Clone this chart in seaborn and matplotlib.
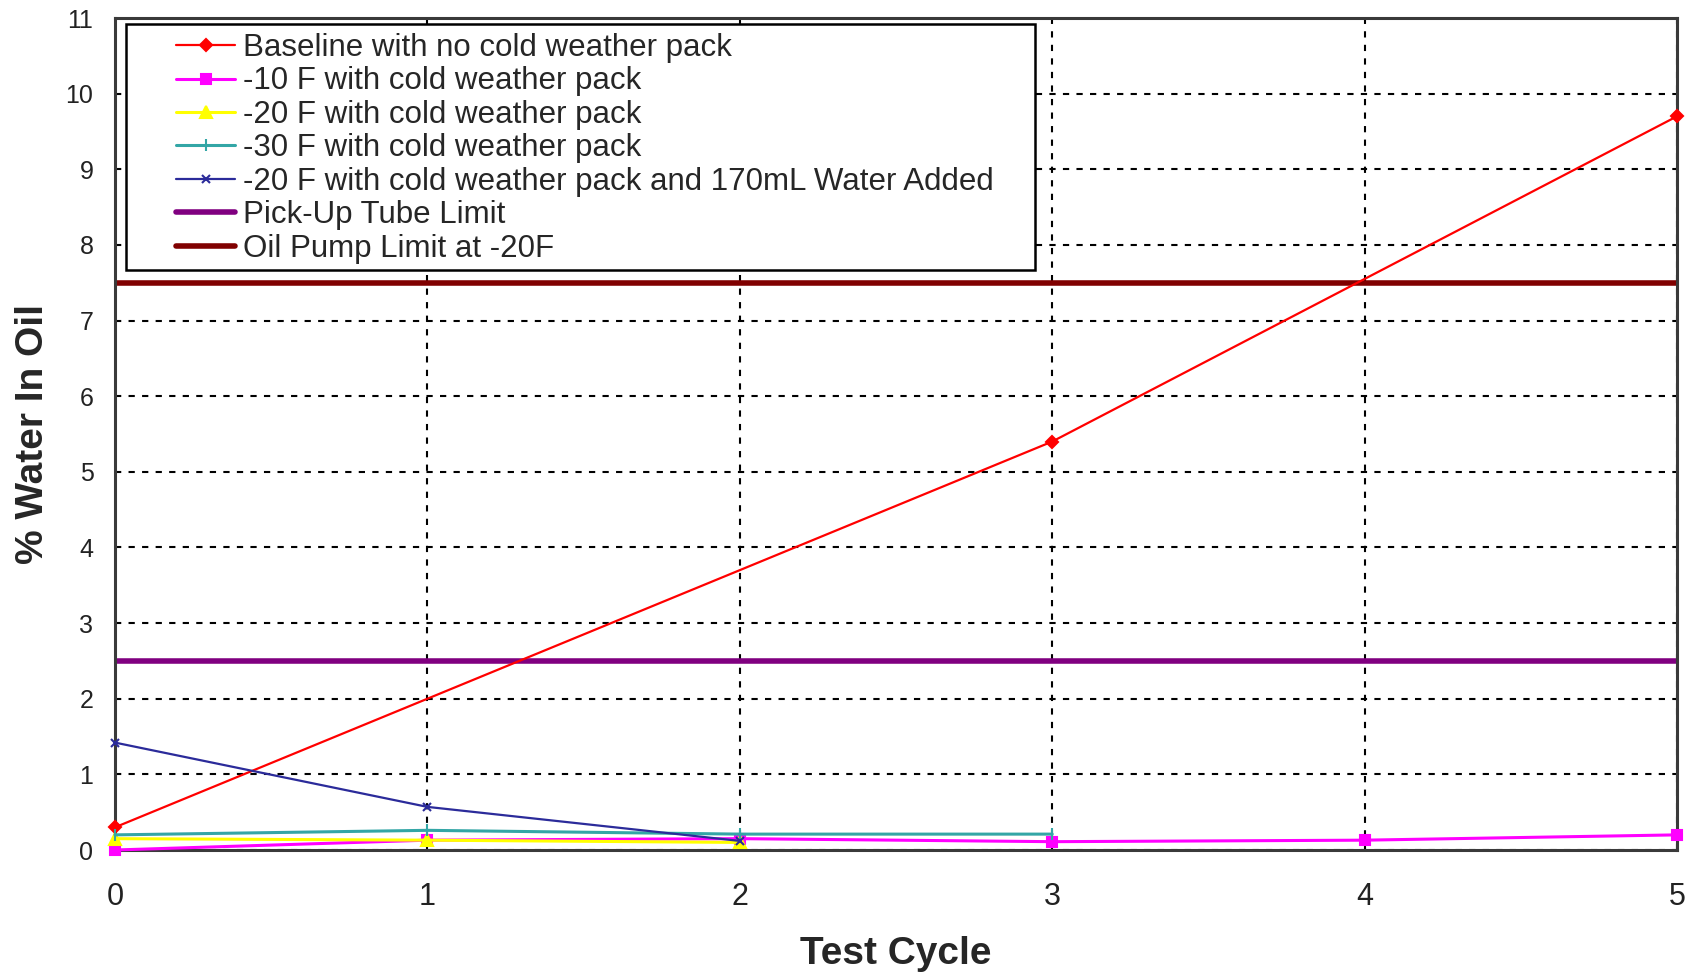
import numpy as np
import pandas as pd
import matplotlib
matplotlib.use("Agg")
import matplotlib.pyplot as plt
from matplotlib.patches import Rectangle
import seaborn as sns

# series
baseline_x = [0, 3, 5]
baseline_y = [0.3, 5.4, 9.7]

minus10_x = [0, 1, 2, 3, 4, 5]
minus10_y = [0.0, 0.13, 0.15, 0.11, 0.13, 0.2]

minus20_x = [0, 1, 2]
minus20_y = [0.15, 0.13, 0.1]

minus30_x = [0, 1, 2, 3]
minus30_y = [0.2, 0.26, 0.21, 0.21]

water_x = [0, 1, 2]
water_y = [1.42, 0.57, 0.12]

pickup_limit = 2.5
pump_limit = 7.5

labels = [
    "Baseline with no cold weather pack",
    "-10 F with cold weather pack",
    "-20 F with cold weather pack",
    "-30 F with cold weather pack",
    "-20 F with cold weather pack and 170mL Water Added",
    "Pick-Up Tube Limit",
    "Oil Pump Limit at -20F",
]

sns.set_style("white")
plt.rcParams["font.family"] = ["Liberation Sans", "DejaVu Sans"]

W, H = 1691, 973
fig = plt.figure(figsize=(W / 100, H / 100), dpi=100)
ax = fig.add_axes([115 / W, 1 - 850 / H, (1677 - 115) / W, (850 - 18) / H])

series = [
    (baseline_x, baseline_y, "#FF0000", "D", 6, 1.6),
    (minus10_x, minus10_y, "#FF00FF", "s", 7, 2.2),
    (minus20_x, minus20_y, "#FFFF00", "^", 9, 2.2),
    (minus30_x, minus30_y, "#33A6A6", "|", 9, 2.2),
    (water_x, water_y, "#2B2B9A", "x", 6, 1.6),
]

for (xs, ys, color, marker, ms, lw), label in zip(series, labels[:5]):
    df = pd.DataFrame({"cycle": xs, "water": ys})
    sns.lineplot(
        data=df,
        x="cycle",
        y="water",
        ax=ax,
        color=color,
        marker=marker,
        markersize=ms,
        markeredgecolor=color,
        markeredgewidth=1.5,
        linewidth=lw,
        label=label,
        zorder=3,
        clip_on=False,
    )

ax.axhline(pickup_limit, color="#800080", linewidth=4, label=labels[5], zorder=2)
ax.axhline(pump_limit, color="#800000", linewidth=4, label=labels[6], zorder=2)

ax.set_xlim(0, 5)
ax.set_ylim(0, 11)
ax.set_xticks(range(0, 6))
ax.set_yticks(range(0, 12))
ax.grid(True, color="black", linestyle=(0, (3, 3.5)), linewidth=1.5)
ax.tick_params(axis="x", labelsize=22, length=7, width=1.5, direction="out", pad=16, colors="#222222")
ax.tick_params(axis="y", labelsize=18, length=6.5, width=1.5, direction="out", pad=9, colors="#222222")
for side in ["left", "bottom", "right", "top"]:
    ax.spines[side].set_visible(True)
    ax.spines[side].set_color("#3a3a3a")
    ax.spines[side].set_linewidth(2.2)

ax.set_xlabel("Test Cycle", fontsize=28, fontweight="bold")
ax.set_ylabel("% Water In Oil", fontsize=28, fontweight="bold")
ax.xaxis.set_label_coords(0.5, -0.103)
ax.yaxis.set_label_coords(-0.041, 0.5)

# legend frame drawn separately so the handles can sit further in
frame = Rectangle(
    (126 / W, 1 - 270 / H),
    (1035 - 126) / W,
    (270 - 24) / H,
    transform=fig.transFigure,
    facecolor="white",
    edgecolor="black",
    linewidth=1.8,
    zorder=4,
)
ax.add_patch(frame)

leg = ax.legend(
    loc="upper left",
    bbox_to_anchor=(176 / W, 1 - 33 / H),
    bbox_transform=fig.transFigure,
    fontsize=22.5,
    frameon=False,
    handlelength=1.9,
    handletextpad=0.25,
    labelspacing=0.11,
    borderpad=0,
    borderaxespad=0,
)
leg.set_zorder(5)
for line in leg.get_lines():
    line.set_linewidth(max(line.get_linewidth(), 1.6))

fig.savefig("out.png", dpi=100)
